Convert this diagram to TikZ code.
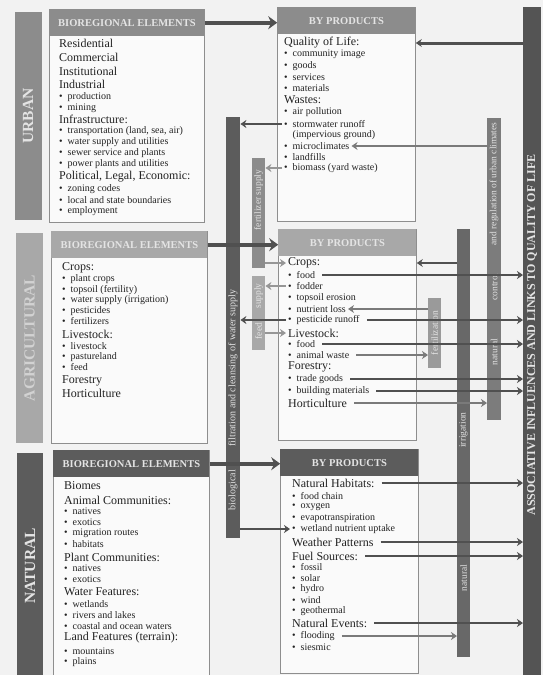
\documentclass[tikz,border=0pt]{standalone}
\usepackage{fontspec}
\setmainfont{Liberation Serif}
\usetikzlibrary{arrows.meta}

\definecolor{paper}{HTML}{F2F2F2}
\definecolor{boxfill}{HTML}{FAFAFA}
\definecolor{boxline}{HTML}{8E8E8E}
\definecolor{urbgray}{HTML}{8C8C8C}
\definecolor{agrgray}{HTML}{A8A8A8}
\definecolor{natgray}{HTML}{5C5C5C}
\definecolor{fertgray}{HTML}{9A9A9A}
\definecolor{irriggray}{HTML}{686868}
\definecolor{ctrlgray}{HTML}{7C7C7C}
\definecolor{assocgray}{HTML}{545454}
\definecolor{lbltxt}{HTML}{E4E4E4}
\definecolor{agrtxt}{HTML}{D2D2D2}
\definecolor{inktxt}{HTML}{222222}
\definecolor{darkarr}{HTML}{505050}
\definecolor{midarr}{HTML}{7A7A7A}
\definecolor{lightarr}{HTML}{969696}

\tikzset{
    box/.style={draw=boxline, line width=.8pt, fill=boxfill, anchor=north west, inner sep=0pt},
    hdr/.style={fill=#1, anchor=north, inner sep=0pt, minimum height=27pt, text=lbltxt,
        font=\fontsize{10.5}{12}\selectfont\bfseries},
    bar/.style={fill=#1, anchor=north west, inner sep=0pt},
    barlbl/.style={rotate=90, text=lbltxt, inner sep=0pt, font=\fontsize{9.5}{11}\selectfont},
    catbar/.style={fill=#1, rotate=90, inner sep=0pt, font=\fontsize{15.5}{17}\selectfont\bfseries},
    hd/.style={anchor=west, inner xsep=2pt, inner ysep=0pt, text=inktxt, font=\fontsize{12}{13}\selectfont},
    bl/.style={hd, font=\fontsize{10}{11}\selectfont, execute at begin node={\textbullet\hspace{5pt}}},
    bc/.style={hd, font=\fontsize{10}{11}\selectfont, execute at begin node={\hphantom{\textbullet}\hspace{5pt}}},
    bigarr/.style={draw=darkarr, line width=4pt, -{Stealth[length=9pt,width=13pt,inset=3pt]}},
    arr/.style={draw=#1, line width=1.8pt, -{Stealth[length=6pt,width=8pt,inset=2pt]}},
    arr/.default=darkarr,
    fromtxt/.style={shorten <=5pt}
}

\begin{document}
\begin{tikzpicture}[x=1pt, y=-1pt]
        \fill[paper] (0,0) rectangle (543,675);
        \useasboundingbox (0,0) rectangle (543,675);

        \node[catbar=urbgray, text=lbltxt, minimum width=208, minimum height=27] (urban) at (28,116) {URBAN};
        \node[catbar=agrgray, text=agrtxt, minimum width=210, minimum height=27] (agri) at (29.5,338) {AGRICULTURAL};
        \node[catbar=natgray, text=lbltxt, minimum width=226, minimum height=26] (natural) at (30,566) {NATURAL};

        \node[box, minimum width=155, minimum height=213] (ube) at (49,9) {};
        \node[box, minimum width=138, minimum height=214] (ubp) at (277,7) {};
        \node[box, minimum width=156, minimum height=212] (abe) at (51,231) {};
        \node[box, minimum width=138, minimum height=211] (abp) at (278,229) {};
        \node[box, minimum width=156, minimum height=230] (nbe) at (53,450) {};
        \node[box, minimum width=138, minimum height=224] (nbp) at (280,449) {};

        \node[hdr=urbgray, minimum width=155] (ubeh) at (ube.north) {BIOREGIONAL ELEMENTS};
        \node[hdr=urbgray, minimum width=138] (ubph) at (ubp.north) {BY PRODUCTS};
        \node[hdr=agrgray, minimum width=156] (abeh) at (abe.north) {BIOREGIONAL ELEMENTS};
        \node[hdr=agrgray, minimum width=138] (abph) at (abp.north) {BY PRODUCTS};
        \node[hdr=natgray, minimum width=156] (nbeh) at (nbe.north) {BIOREGIONAL ELEMENTS};
        \node[hdr=natgray, minimum width=138] (nbph) at (nbp.north) {BY PRODUCTS};

        \node[bar=natgray, minimum width=14, minimum height=421] (bio) at (226,117) {};
        \node[bar=urbgray, minimum width=13, minimum height=110] (fsup) at (252,158) {};
        \node[bar=agrgray, minimum width=13, minimum height=74] (feed) at (252,276) {};
        \node[bar=fertgray, minimum width=13, minimum height=70] (fert) at (428,298) {};
        \node[bar=irriggray, minimum width=13, minimum height=428] (irrig) at (457,229) {};
        \node[bar=ctrlgray, minimum width=14, minimum height=302] (ctrl) at (487,118) {};
        \node[bar=assocgray, minimum width=18, minimum height=668] (assoc) at (523,7) {};

        \node[barlbl, font=\fontsize{10}{12}\selectfont] (biolbl) at (233,368) {filtration and cleansing of water supply};
        \node[barlbl, font=\fontsize{10}{12}\selectfont] (biolbl2) at (233,490) {biological};
        \node[barlbl] (fsuplbl) at (258.5,200) {fertilizer supply};
        \node[barlbl] (feedlbl) at (258.5,296) {supply};
        \node[barlbl] (feedlbl2) at (258.5,331) {feed};
        \node[barlbl] (fertlbl) at (434.5,333) {fertilization};
        \node[barlbl] (irriglbl) at (463.5,430) {irrigation};
        \node[barlbl] (irriglbl2) at (463.5,578) {natural};
        \node[barlbl] (ctrllbl) at (494,184) {and regulation of urban climates};
        \node[barlbl] (ctrllbl2) at (494,287) {control};
        \node[barlbl] (ctrllbl3) at (494,352) {natural};
        \node[barlbl, font=\fontsize{12}{14}\selectfont\bfseries] (assoclbl) at (532,335) {ASSOCIATIVE INFLUENCES AND LINKS TO QUALITY OF LIFE};

        \foreach \y/\s/\t [count=\i] in {43/hd/Residential, 57/hd/Commercial, 71/hd/Institutional, 84/hd/Industrial,
            97/bl/production, 108/bl/mining, 119/hd/Infrastructure:, 131/bl/{transportation (land, sea, air)},
            142/bl/water supply and utilities, 153/bl/sewer service and plants, 164/bl/power plants and utilities,
            177/hd/{Political, Legal, Economic:}, 189/bl/zoning codes, 200/bl/local and state boundaries, 211/bl/employment}
            \node[\s] (ue\i) at (57,\y) {\t};
        \foreach \y/\s/\t [count=\i] in {43/hd/Quality of Life:, 54/bl/community image, 66/bl/goods, 77/bl/services,
            88/bl/materials, 100/hd/Wastes:, 112/bl/air pollution, 124/bl/stormwater runoff, 135/bc/(impervious ground),
            146/bl/microclimates, 157/bl/landfills, 168/bl/biomass (yard waste)}
            \node[\s] (up\i) at (282,\y) {\t};
        \foreach \y/\s/\t [count=\i] in {268/hd/Crops:, 279/bl/plant crops, 290/bl/topsoil (fertility),
            300/bl/water supply (irrigation), 311/bl/pesticides, 321/bl/fertilizers, 334/hd/Livestock:,
            346/bl/livestock, 357/bl/pastureland, 367/bl/feed, 381/hd/Forestry, 393/hd/Horticulture}
            \node[\s] (ae\i) at (60,\y) {\t};
        \foreach \y/\s/\t [count=\i] in {263/hd/Crops:, 275/bl/food, 286/bl/fodder, 298/bl/topsoil erosion,
            309/bl/nutrient loss, 320/bl/pesticide runoff, 333/hd/Livestock:, 344/bl/food, 355/bl/animal waste,
            367/hd/Forestry:, 379/bl/trade goods, 391/bl/building materials, 403/hd/Horticulture}
            \node[\s] (ap\i) at (286,\y) {\t};
        \foreach \y/\s/\t [count=\i] in {486/hd/Biomes, 500/hd/Animal Communities:, 511/bl/natives, 522/bl/exotics,
            533/bl/migration routes, 544/bl/habitats, 557/hd/Plant Communities:, 568/bl/natives, 579/bl/exotics,
            592/hd/Water Features:, 604/bl/wetlands, 615/bl/rivers and lakes, 626/bl/coastal and ocean waters,
            638/hd/Land Features (terrain):, 651/bl/mountains, 662/bl/plains}
            \node[\s] (ne\i) at (62,\y) {\t};
        \foreach \y/\s/\t [count=\i] in {483/hd/Natural Habitats:, 496/bl/food chain, 507/bl/oxygen,
            518/bl/evapotranspiration, 529/bl/wetland nutrient uptake, 542/hd/Weather Patterns, 556/hd/Fuel Sources:,
            567/bl/fossil, 578/bl/solar, 589/bl/hydro, 600/bl/wind, 611/bl/geothermal, 623/hd/Natural Events:,
            636/bl/flooding, 647/bl/siesmic}
            \node[\s] (np\i) at (290,\y) {\t};

        \draw[bigarr] (ubeh.east) -- (ubeh.east -| ubph.west);
        \draw[bigarr] (abeh.east) -- (abeh.east -| abph.west);
        \draw[bigarr] (nbeh.east) -- (nbeh.east -| nbph.west);
        \draw[arr, line width=3pt] (assoc.west |- up1) -- (ubp.east |- up1);
        \draw[arr] (up8.west) -- (up8.west -| bio.east);
        \draw[arr=midarr] (ctrl.west |- up10) -- (up10.east);
        \draw[arr=lightarr] (up12.west) -- (up12.west -| fsup.east);
        \draw[arr=lightarr] (fsup.east |- ap1) -- (ap1.west);
        \draw[arr=lightarr] (ap3.west) -- (ap3.west -| feed.east);
        \draw[arr] (ap6.west) -- (ap6.west -| bio.east);
        \draw[arr, fromtxt] (ap6.east) -- (ap6.east -| assoc.west);
        \draw[arr=lightarr] (feed.east |- ap7) -- (ap7.west);
        \draw[arr, fromtxt] (ap2.east) -- (ap2.east -| assoc.west);
        \draw[arr] (irrig.west |- ap1) -- (abp.east |- ap1);
        \draw[arr=midarr] (fert.west |- ap5) -- (ap5.east);
        \draw[arr, fromtxt] (ap8.east) -- (ap8.east -| assoc.west);
        \draw[arr=midarr, fromtxt] (ap9.east) -- (ap9.east -| fert.west);
        \draw[arr, fromtxt] (ap11.east) -- (ap11.east -| assoc.west);
        \draw[arr, fromtxt] (ap12.east) -- (ap12.east -| assoc.west);
        \draw[arr=midarr, fromtxt] (ap13.east) -- (ap13.east -| ctrl.west);
        \draw[arr] (bio.east |- np5) -- (np5.west);
        \draw[arr, fromtxt] (np1.east) -- (np1.east -| assoc.west);
        \draw[arr, fromtxt] (np6.east) -- (np6.east -| assoc.west);
        \draw[arr, fromtxt] (np7.east) -- (np7.east -| assoc.west);
        \draw[arr, fromtxt] (np13.east) -- (np13.east -| assoc.west);
        \draw[arr=midarr, fromtxt] (np14.east) -- (np14.east -| irrig.west);
    \end{tikzpicture}
\end{document}
